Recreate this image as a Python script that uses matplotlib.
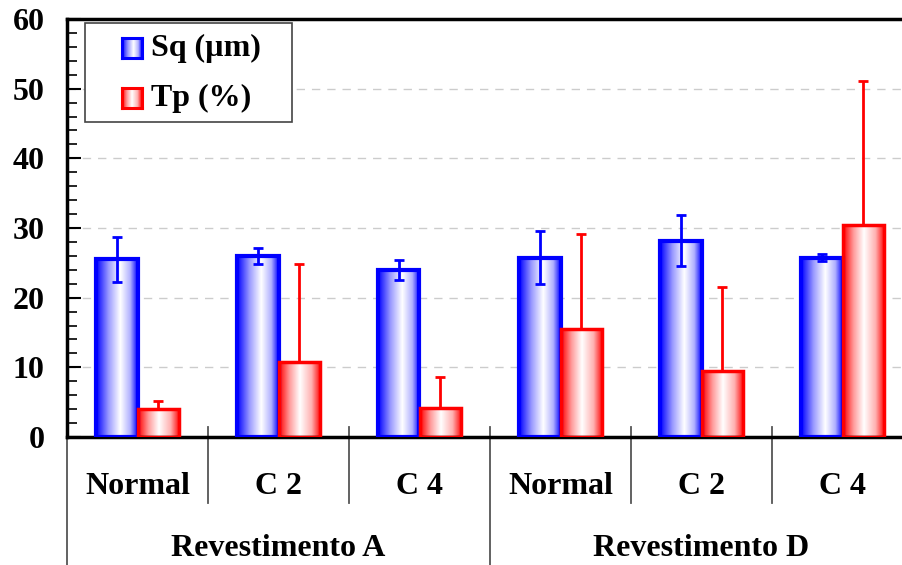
import numpy as np
import matplotlib
matplotlib.use('Agg')
import matplotlib.pyplot as plt
from matplotlib.colors import LinearSegmentedColormap
import matplotlib.transforms as mtransforms

# dados
categorias = ['Normal', 'C 2', 'C 4', 'Normal', 'C 2', 'C 4']
grupos = ['Revestimento A', 'Revestimento D']
sq = [25.5, 26.0, 24.0, 25.7, 28.2, 25.7]
sq_err = [3.2, 1.1, 1.4, 3.8, 3.6, 0.5]
tp = [4.0, 10.7, 4.2, 15.5, 9.5, 30.4]
tp_err = [1.2, 14.2, 4.4, 13.6, 12.0, 20.7]

plt.rcParams['font.family'] = ['Liberation Serif', 'DejaVu Serif']
plt.rcParams['font.weight'] = 'bold'
fs = 23

azul = '#0000ff'
verm = '#ff0000'
cmap_azul = LinearSegmentedColormap.from_list('az', [(0, azul), (0.3, '#9a9aff'), (0.58, '#ffffff'), (0.82, '#b0b0ff'), (1, azul)])
cmap_verm = LinearSegmentedColormap.from_list('vm', [(0, verm), (0.25, '#ff9a9a'), (0.5, '#ffffff'), (0.78, '#ffb0b0'), (1, verm)])
grad = np.linspace(0, 1, 256).reshape(1, -1)

W, H = 902, 565
fig = plt.figure(figsize=(W / 100, H / 100), dpi=100)
ax = fig.add_axes([67 / W, 1 - 437 / H, (913 - 67) / W, (437 - 19) / H])

n = len(categorias)
x = np.arange(n)
larg = 0.295

def barra(xc, h, cmap, cor, lw):
    x0, x1 = xc - larg / 2, xc + larg / 2
    ax.imshow(grad, cmap=cmap, extent=(x0, x1, 0, h), aspect='auto', zorder=2, interpolation='bilinear')
    ax.bar(xc, h, width=larg, facecolor='none', edgecolor=cor, linewidth=lw, zorder=3)

for i in range(n):
    barra(x[i] - larg / 2, sq[i], cmap_azul, azul, 3)
    barra(x[i] + larg / 2, tp[i], cmap_verm, verm, 2.5)

ax.errorbar(x - larg / 2, sq, yerr=sq_err, fmt='none', ecolor=azul, elinewidth=2, capsize=3.5, capthick=2, zorder=4)
ax.errorbar(x + larg / 2, tp, yerr=[np.zeros(n), tp_err], fmt='none', ecolor=verm, elinewidth=2, capsize=3.5, capthick=2, zorder=4)

ax.set_xlim(-0.5, n - 0.5)
ax.set_ylim(0, 60)
ax.set_yticks(np.arange(0, 61, 10))
ax.set_yticks(np.arange(0, 61, 2), minor=True)
ax.tick_params(axis='y', which='major', direction='in', length=10, width=1.5, pad=16, labelsize=fs)
ax.tick_params(axis='y', which='minor', direction='in', length=7, width=1.2)
ax.set_xticks(x)
ax.set_xticklabels([])
ax.tick_params(axis='x', direction='in', length=5, width=1.2)
for t in ax.get_yticklabels():
    t.set_fontweight('bold')

ax.yaxis.grid(True, linestyle=(0, (6, 5)), color='#cccccc', linewidth=1)
ax.set_axisbelow(True)
for s in ax.spines.values():
    s.set_linewidth(2.5)
    s.set_color('black')

# eixo x hierárquico
trans = mtransforms.blended_transform_factory(ax.transData, ax.transAxes)
h_ax = 437 - 19
for k in range(n + 1):
    xs = k - 0.5
    if k % 3 == 0:
        y_fim = -(565 - 437) / h_ax
    else:
        y_fim = -(503 - 437) / h_ax
    ax.plot([xs, xs], [10 / h_ax, y_fim], transform=trans, color='#555555', lw=1.3, clip_on=False, zorder=1)

for i, c in enumerate(categorias):
    ax.text(x[i], -(486 - 437) / h_ax, c, transform=trans, ha='center', va='center', fontsize=fs, fontweight='bold')
for g, nome in enumerate(grupos):
    ax.text(3 * g + 1, -(548 - 437) / h_ax, nome, transform=trans, ha='center', va='center', fontsize=fs, fontweight='bold')

# legenda desenhada à mão
leg = plt.Rectangle((85 / W, 1 - 122 / H), (292 - 85) / W, (122 - 23) / H, transform=fig.transFigure,
                    facecolor='white', edgecolor='#444444', lw=1.2, zorder=10)
fig.patches.append(leg)
for j, (nome, cmap, cor, yc) in enumerate([('Sq (µm)', cmap_azul, azul, 48), ('Tp (%)', cmap_verm, verm, 98)]):
    lax = fig.add_axes([122 / W, 1 - (yc + 10) / H, 20 / W, 20 / H], zorder=11)
    lax.imshow(grad, cmap=cmap, aspect='auto', extent=(0, 1, 0, 1))
    lax.set_xticks([])
    lax.set_yticks([])
    for s in lax.spines.values():
        s.set_color(cor)
        s.set_linewidth(2.2)
    fig.text(151 / W, 1 - yc / H, nome, ha='left', va='center', fontsize=fs, fontweight='bold', zorder=12)

fig.savefig('out.png', dpi=100)
